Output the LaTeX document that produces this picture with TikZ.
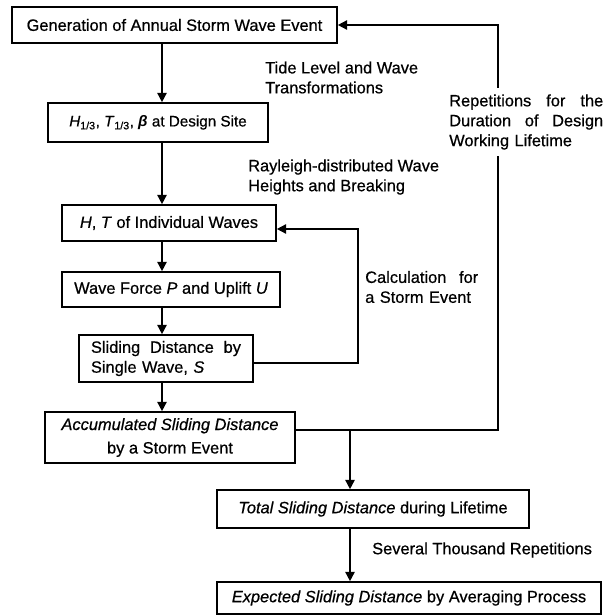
\documentclass[tikz,border=0pt]{standalone}
\usepackage{fontspec}
\setmainfont{Liberation Sans}[UprightFeatures={FakeBold=0.6},ItalicFeatures={FakeBold=0.6}]
\usetikzlibrary{arrows.meta,positioning}

\begin{document}
\begin{tikzpicture}[% pixel-like units, y runs downwards
      x=0.03cm, y=-0.03cm,
      every node/.style={
        font=\fontsize{14}{17}\selectfont
      },
      box/.style={draw, line width=1.4pt, inner sep=0pt, align=center},
      lbl/.style={inner sep=0pt, align=left, anchor=west},
      conn/.style={line width=1.4pt},
      >={Triangle[length=0.28cm,width=0.28cm]}
    ]
    \useasboundingbox (0,0) rectangle (603,616);
    % boxes of the main chain
    \node[box,minimum width=9.75cm,minimum height=1.08cm](gen) at (174.5,25) {Generation of Annual Storm Wave Event};
    \node[box,minimum width=6.6cm,minimum height=1.17cm,font=\fontsize{13}{16}\selectfont](site) at (158,122.5) {\textit{H}\textsubscript{1/3}, \textit{T}\textsubscript{1/3}, \textbf{\textit{β}} at Design Site};
    \node[box,minimum width=6.42cm,minimum height=1.08cm](indiv) at (169,223) {\textit{H}, \textit{T} of Individual Waves};
    \node[box,minimum width=6.54cm,minimum height=1.05cm](force) at (171,289.5) {Wave Force \textit{P} and Uplift \textit{U}};
    \node[box,minimum width=5.22cm,minimum height=1.41cm,text width=4.5cm,align=left](slide) at (166,358.5) {Sliding\hfill Distance\hfill by\\Single Wave, \textit{S}};
    \node[box,minimum width=7.5cm,minimum height=1.53cm](acc) at (170,437.5) {\textit{Accumulated Sliding Distance}\\[3pt]by a Storm Event};
    \node[box,minimum width=9.36cm,minimum height=1.14cm](total) at (373,509) {\textit{Total Sliding Distance} during Lifetime};
    \node[box,minimum width=11.52cm,minimum height=0.96cm](expect) at (409,598) {\textit{Expected Sliding Distance} by Averaging Process};
    % labels
    \node[lbl](tide) at (265,77.5) {Tide Level and Wave\\Transformations};
    \node[lbl](rayl) at (248,177) {Rayleigh-distributed Wave\\Heights and Breaking};
    \node[lbl,text width=3.39cm](calc) at (365,287) {Calculation\hfill for\\a Storm Event};
    \node[lbl,text width=4.62cm,inner ysep=0.2cm](reps) at (449,122) {Repetitions\hfill for\hfill the\\Duration\hfill of\hfill Design\\Working Lifetime};
    \node[lbl](sev) at (372,550) {Several Thousand Repetitions};
    % helper points
    \coordinate (spine) at (162,0);
    \coordinate (cbot) at (358,363);
    \coordinate (ctop) at (358,229);
    \coordinate (rbot) at (498,430);
    \coordinate (rtop) at (498,25);
    \coordinate (split) at (350,430);
    % connectors
    \foreach \a/\b in {gen/site,site/indiv,indiv/force,force/slide,slide/acc}
      \draw[conn,->] (\a.south -| spine) -- (\b.north -| spine);
    \draw[conn,->] (slide.east |- cbot) -- (cbot) -- (ctop) -- (indiv.east |- ctop);
    \draw[conn] (acc.east |- rbot) -- (rbot) -- (reps.south -| rbot);
    \draw[conn,->] (reps.north -| rbot) -- (rtop) -- (gen.east);
    \draw[conn,->] (split) -- (total.north -| split);
    \draw[conn,->] (total.south -| split) -- (expect.north -| split);
  \end{tikzpicture}
\end{document}
